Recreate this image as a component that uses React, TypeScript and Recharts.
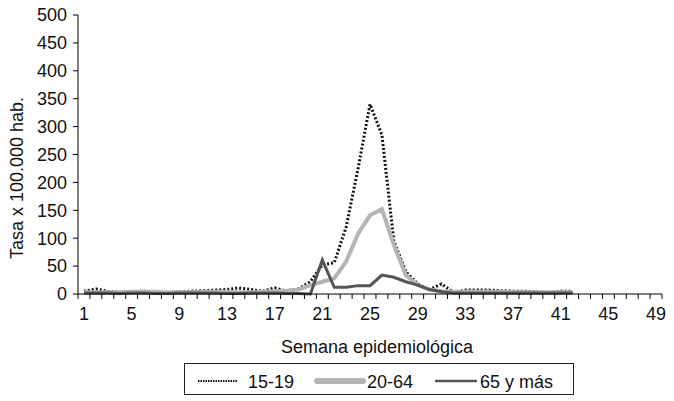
import React from 'react';
import { LineChart, Line, XAxis, YAxis, Legend } from 'recharts';

const weeks = [1, 2, 3, 4, 5, 6, 7, 8, 9, 10, 11, 12, 13, 14, 15, 16, 17, 18, 19, 20, 21, 22, 23, 24, 25, 26, 27, 28, 29, 30, 31, 32, 33, 34, 35, 36, 37, 38, 39, 40, 41, 42];
const teens = [5, 9, 5, 3, 4, 5, 4, 2, 4, 5, 6, 7, 8, 11, 8, 5, 11, 5, 9, 22, 52, 56, 120, 225, 340, 285, 95, 40, 18, 8, 18, 3, 7, 7, 7, 6, 5, 5, 4, 2, 5, 5];
const adults = [3, 3, 3, 3, 4, 4, 4, 3, 3, 3, 4, 4, 4, 3, 3, 4, 5, 6, 8, 16, 22, 28, 58, 108, 141, 152, 88, 34, 16, 8, 5, 4, 4, 4, 4, 4, 3, 3, 3, 3, 3, 3];
const seniors = [2, 2, 2, 1, 2, 2, 1, 1, 2, 2, 2, 2, 1, 1, 2, 2, 2, 1, 1, 0, 61, 12, 12, 15, 15, 34, 30, 22, 16, 8, 4, 2, 2, 2, 2, 2, 2, 2, 2, 2, 2, 2];

const weekLabels = [1, 5, 9, 13, 17, 21, 25, 29, 33, 37, 41, 45, 49];
const weekBounds = [0.5, 1.5, 2.5, 3.5, 4.5, 5.5, 6.5, 7.5, 8.5, 9.5, 10.5, 11.5, 12.5, 13.5, 14.5, 15.5, 16.5, 17.5, 18.5, 19.5, 20.5, 21.5, 22.5, 23.5, 24.5, 25.5, 26.5, 27.5, 28.5, 29.5, 30.5, 31.5, 32.5, 33.5, 34.5, 35.5, 36.5, 37.5, 38.5, 39.5, 40.5, 41.5, 42.5, 43.5, 44.5, 45.5, 46.5, 47.5, 48.5, 49.5];
const yTicks = [0, 50, 100, 150, 200, 250, 300, 350, 400, 450, 500];

const data = weeks.map((w, i) => ({ week: w, t: teens[i], a: adults[i], s: seniors[i] }));
const xTicks = [...weekBounds, ...weekLabels].sort((p, q) => p - q);

const FONT = '"Liberation Sans", Arial, sans-serif';
const TICK_SIZE = 5;
const TICK_MARGIN = 8;

const WeekTick = (props: any) => {
  const { x, y, payload } = props;
  const v = payload.value;
  if (Number.isInteger(v)) {
    return (
      <text x={x} y={y} dy="0.71em" textAnchor="middle" fontSize={18} fill="#111" fontFamily={FONT}>
        {v}
      </text>
    );
  }
  const top = y - TICK_MARGIN - TICK_SIZE;
  return <line x1={x} x2={x} y1={top} y2={top + 5} stroke="#000" />;
};

// legend item positions inside the box (px from box left)
const legendPos = [
  { x1: 14, x2: 53, tx: 64 },
  { x1: 133, x2: 179, tx: 183 },
  { x1: 251, x2: 293, tx: 296 },
];

const LegendBox = (props: any) => {
  const items = props.payload || [];
  return (
    <svg width={390} height={32} style={{ display: 'block' }}>
      <rect x={0.5} y={0.5} width={389} height={31} fill="#fff" stroke="#222" />
      {items.map((item: any, i: number) => {
        const p = legendPos[i];
        return (
          <g key={item.value}>
            <line
              x1={p.x1}
              x2={p.x2}
              y1={18}
              y2={18}
              stroke={item.color}
              strokeWidth={i === 0 ? 2 : i === 1 ? 6 : 2.5}
              strokeDasharray={i === 0 ? '1.5 1' : undefined}
              strokeLinecap={i === 1 ? 'round' : 'butt'}
            />
            <text x={p.tx} y={25} fontSize={18} fill="#111" fontFamily={FONT}>
              {item.value}
            </text>
          </g>
        );
      })}
    </svg>
  );
};

const App: React.FC = () => {
  return (
    <div style={{ position: 'absolute', left: 0, top: 0, background: '#fff' }}>
      <LineChart
        width={674}
        height={401}
        data={data}
        margin={{ top: 15, right: 12, left: 0, bottom: 47 }}
        style={{ fontFamily: FONT }}
      >
        <XAxis
          dataKey="week"
          type="number"
          domain={[0.5, 49.5]}
          ticks={xTicks}
          interval={0}
          tick={<WeekTick />}
          tickLine={false}
          tickSize={TICK_SIZE}
          tickMargin={TICK_MARGIN}
          height={60}
          stroke="#000"
          label={{
            content: (p: any) => (
              <text x={377} y={p.viewBox.y + 59} textAnchor="middle" fontSize={18} fill="#111" fontFamily={FONT}>
                Semana epidemiológica
              </text>
            ),
          }}
        />
        <YAxis
          domain={[0, 500]}
          ticks={yTicks}
          width={78}
          interval={0}
          tickSize={5}
          tickMargin={6}
          stroke="#000"
          tick={{ fontSize: 18, fill: '#111' }}
          label={{
            content: () => (
              <text x={23} y={178} transform="rotate(-90, 23, 178)" textAnchor="middle" fontSize={18} fill="#111" fontFamily={FONT}>
                Tasa x 100.000 hab.
              </text>
            ),
          }}
        />
        <Legend
          layout="horizontal"
          verticalAlign="middle"
          align="center"
          content={<LegendBox />}
          wrapperStyle={{ position: 'absolute', top: 363, left: 184, width: 390, height: 32 }}
        />
        <Line
          name="15-19"
          dataKey="t"
          type="linear"
          stroke="#111"
          strokeWidth={3}
          strokeDasharray="2 2"
          dot={false}
          isAnimationActive={false}
        />
        <Line
          name="20-64"
          dataKey="a"
          type="linear"
          stroke="#b4b4b4"
          strokeWidth={4}
          dot={false}
          isAnimationActive={false}
        />
        <Line
          name="65 y más"
          dataKey="s"
          type="linear"
          stroke="#555"
          strokeWidth={3}
          dot={false}
          isAnimationActive={false}
        />
      </LineChart>
    </div>
  );
};

export default App;
